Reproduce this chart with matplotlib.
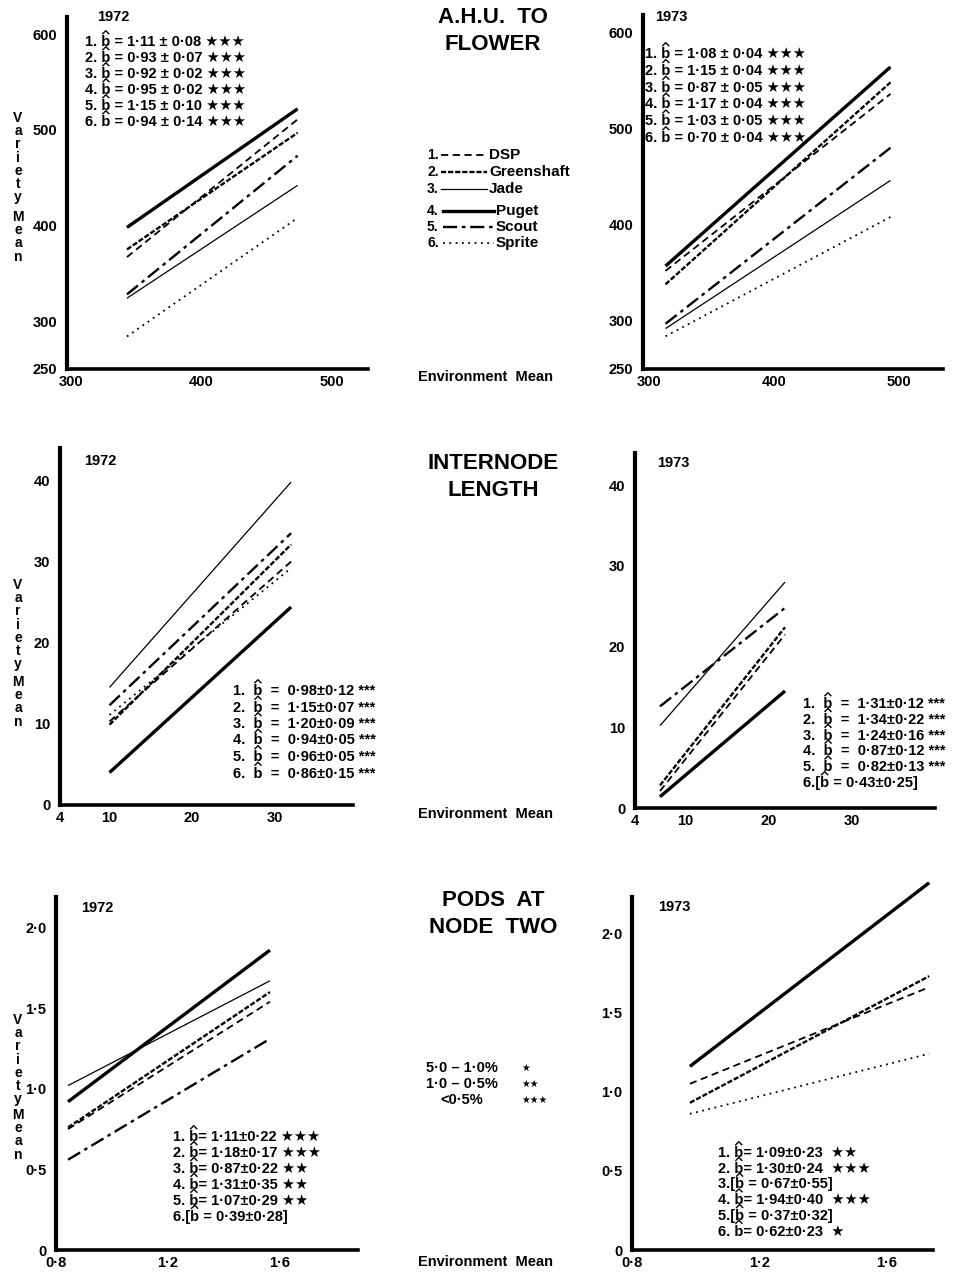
import matplotlib
matplotlib.use('Agg')
import matplotlib.pyplot as plt

plt.rcParams['font.family'] = ['Liberation Sans', 'DejaVu Sans']
plt.rcParams['font.weight'] = 'bold'

W, H = 960, 1277

varieties = ['DSP', 'Greenshaft', 'Jade', 'Puget', 'Scout', 'Sprite']
line_width = [1.3, 1.7, 0.9, 2.4, 1.7, 1.3]
line_dash = [(0, (4, 2.5)), (0, (2.2, 0.8)), '-', '-', (0, (6, 2, 1.5, 2)), (0, (1, 2.5))]

# A.H.U. to flower
ahu_xticks = [300, 400, 500]
ahu_yticks = [250, 300, 400, 500, 600]
ahu72_x = [343, 474]
ahu72_start = [367, 375, 324, 398, 328, 284]
ahu72_end = [511, 497, 442, 522, 473, 408]
ahu72_b = ['1·11 ± 0·08', '0·93 ± 0·07', '0·92 ± 0·02', '0·95 ± 0·02', '1·15 ± 0·10', '0·94 ± 0·14']
ahu72_sig = ['★★★'] * 6
ahu73_x = [313, 493]
ahu73_start = [352, 338, 292, 357, 297, 284]
ahu73_end = [536, 548, 446, 564, 480, 408]
ahu73_b = ['1·08 ± 0·04', '1·15 ± 0·04', '0·87 ± 0·05', '1·17 ± 0·04', '1·03 ± 0·05', '0·70 ± 0·04']
ahu73_sig = ['★★★'] * 6

# internode length
int_xticks = [4, 10, 20, 30]
int_yticks = [0, 10, 20, 30, 40]
int72_x = [10, 32]
int72_start = [10.3, 9.9, 14.5, 4.0, 12.3, 11.1]
int72_end = [30.0, 32.1, 39.8, 24.4, 33.5, 29.2]
int72_b = ['0·98±0·12', '1·15±0·07', '1·20±0·09', '0·94±0·05', '0·96±0·05', '0·86±0·15']
int72_sig = ['***'] * 6
int73_x = [7, 22]
int73_start = [2.1, 2.8, 10.2, 1.4, 12.6, None]
int73_end = [21.5, 22.4, 28.0, 14.5, 24.8, None]
int73_b = ['1·31±0·12', '1·34±0·22', '1·24±0·16', '0·87±0·12', '0·82±0·13', '0·43±0·25']
int73_sig = ['***', '***', '***', '***', '***', None]

# pods at node two
pod_xticks = [0.8, 1.2, 1.6]
pod_xlabels = ['0·8', '1·2', '1·6']
pod_yticks = [0, 0.5, 1.0, 1.5, 2.0]
pod_ylabels = ['0', '0·5', '1·0', '1·5', '2·0']
pod72_x = [0.843, 1.565]
pod72_start = [0.75, 0.76, 1.02, 0.92, 0.56, None]
pod72_end = [1.54, 1.60, 1.67, 1.86, 1.31, None]
pod72_b = ['1·11±0·22', '1·18±0·17', '0·87±0·22', '1·31±0·35', '1·07±0·29', '0·39±0·28']
pod72_sig = ['★★★', '★★★', '★★', '★★', '★★', None]
pod73_x = [0.982, 1.734]
pod73_start = [1.05, 0.93, None, 1.16, None, 0.86]
pod73_end = [1.66, 1.73, None, 2.32, None, 1.24]
pod73_b = ['1·09±0·23', '1·30±0·24', '0·67±0·55', '1·94±0·40', '0·37±0·32', '0·62±0·23']
pod73_sig = ['★★', '★★★', None, '★★★', None, '★']

sig_levels = ['5·0 – 1·0%', '1·0 – 0·5%', '<0·5%']
sig_marks = ['★', '★★', '★★★']

fig = plt.figure(figsize=(W / 100, H / 100), dpi=100)
renderer = fig.canvas.get_renderer()


def fx(x):
    return x / W


def fy(y):
    return 1 - y / H


def text_width(s, size):
    t = fig.text(0, 0, s, fontsize=size)
    w = t.get_window_extent(renderer).width
    t.remove()
    return w


def panel(box, xlim, ylim, xticks, xlabels, yticks, ylabels, xs, starts, ends):
    l, t, r, b = box
    ax = fig.add_axes([fx(l), fy(b), (r - l) / W, (b - t) / H])
    for i in range(len(varieties)):
        if starts[i] is None:
            continue
        ax.plot(xs, [starts[i], ends[i]], color='black', lw=line_width[i],
                linestyle=line_dash[i], clip_on=False, solid_capstyle='butt')
    ax.set_xlim(xlim)
    ax.set_ylim(ylim)
    ax.set_xticks(xticks)
    ax.set_xticklabels(xlabels)
    ax.set_yticks(yticks)
    ax.set_yticklabels(ylabels)
    ax.tick_params(length=0, labelsize=10.5, pad=4)
    ax.tick_params(axis='y', pad=7)
    for side in ['top', 'right']:
        ax.spines[side].set_visible(False)
    ax.spines['left'].set_linewidth(3)
    ax.spines['bottom'].set_linewidth(2.6)
    ax.patch.set_alpha(0)
    return ax


def equations(x, y0, dy, bs, sigs, fmt, size=10.5):
    px = size * 100 / 72
    wb = text_width('b', size)
    for i, (b, s) in enumerate(zip(bs, sigs)):
        y = y0 + i * dy
        if s is None:
            pre = '%d.[b' % (i + 1)
            txt = '%d.[b = %s]' % (i + 1, b)
        else:
            pre = fmt.split('{bh}')[0].format(n=i + 1) + 'b'
            txt = fmt.format(n=i + 1, bh='b', b=b, s=s)
        fig.text(fx(x), fy(y), txt, fontsize=size, ha='left', va='baseline')
        # circumflex over the b
        cx = x + text_width(pre, size) - wb * 0.5
        top = y - px * 0.74 - 1.5
        fig.add_artist(plt.Line2D([fx(cx - 3), fx(cx), fx(cx + 3)],
                                  [fy(top), fy(top - 3), fy(top)],
                                  color='black', lw=1.0))


def variety_mean(x, y_top, y_mid):
    fig.text(fx(x), fy(y_top), '\n'.join('Variety'), fontsize=10, ha='center',
             va='top', linespacing=0.93)
    fig.text(fx(x), fy(y_mid), '\n'.join('Mean'), fontsize=10, ha='center',
             va='top', linespacing=0.93)


# row 1: A.H.U. to flower
panel((67, 17, 368, 369), (297, 528), (250, 618), ahu_xticks, ahu_xticks,
      ahu_yticks, ahu_yticks, ahu72_x, ahu72_start, ahu72_end)
panel((643, 15, 943, 369), (295, 535), (250, 618), ahu_xticks, ahu_xticks,
      ahu_yticks, ahu_yticks, ahu73_x, ahu73_start, ahu73_end)
fig.text(fx(97), fy(17), '1972', fontsize=10.5, va='center')
fig.text(fx(655), fy(17), '1973', fontsize=10.5, va='center')
equations(85, 46, 16, ahu72_b, ahu72_sig, '{n}. {bh} = {b} {s}')
equations(645, 58, 16.8, ahu73_b, ahu73_sig, '{n}. {bh} = {b} {s}')
variety_mean(18, 111, 210)

# row 2: internode length
panel((60, 448, 353, 805), (4, 39.5), (0, 44), int_xticks, int_xticks,
      int_yticks, int_yticks, int72_x, int72_start, int72_end)
panel((635, 453, 935, 808), (4, 40), (0, 44), int_xticks, int_xticks,
      int_yticks, int_yticks, int73_x, int73_start, int73_end)
fig.text(fx(84), fy(461), '1972', fontsize=10.5, va='center')
fig.text(fx(657), fy(463), '1973', fontsize=10.5, va='center')
equations(233, 695, 16.5, int72_b, int72_sig, '{n}.  {bh}  =  {b} {s}')
equations(803, 708, 15.8, int73_b, int73_sig, '{n}.  {bh}  =  {b} {s}')
variety_mean(18, 578, 675)

# row 3: pods at node two
panel((56, 897, 358, 1250), (0.8, 1.88), (0, 2.19), pod_xticks, pod_xlabels,
      pod_yticks, pod_ylabels, pod72_x, pod72_start, pod72_end)
panel((632, 897, 933, 1250), (0.8, 1.746), (0, 2.23), pod_xticks, pod_xlabels,
      pod_yticks, pod_ylabels, pod73_x, pod73_start, pod73_end)
fig.text(fx(81), fy(908), '1972', fontsize=10.5, va='center')
fig.text(fx(658), fy(907), '1973', fontsize=10.5, va='center')
equations(173, 1141, 15.9, pod72_b, pod72_sig, '{n}. {bh}= {b} {s}')
equations(718, 1157, 15.7, pod73_b, pod73_sig, '{n}. {bh}= {b}  {s}')
variety_mean(18, 1013, 1108)

# centre column titles and x label
titles = [('A.H.U.  TO\nFLOWER', 31), ('INTERNODE\nLENGTH', 477), ('PODS  AT\nNODE  TWO', 914)]
for title, y in titles:
    fig.text(fx(493), fy(y), title, fontsize=16, ha='center', va='center',
             linespacing=1.4)
for y in [377, 814, 1262]:
    fig.text(fx(485), fy(y), 'Environment  Mean', fontsize=10.5, ha='center',
             va='center')

# key for line styles
key_rows = [155, 172, 189, 211, 227, 243]
for i, name in enumerate(varieties):
    y = key_rows[i]
    x0, x1, xl = (441, 487, 489) if i < 3 else (443, 494, 496)
    fig.text(fx(427), fy(y), '%d.' % (i + 1), fontsize=10, ha='left', va='center')
    fig.add_artist(plt.Line2D([fx(x0), fx(x1)], [fy(y), fy(y)], color='black',
                              lw=line_width[i], linestyle=line_dash[i]))
    fig.text(fx(xl), fy(y), name, fontsize=11, ha='left', va='center')

# key for significance levels
for i, (lvl, mark) in enumerate(zip(sig_levels, sig_marks)):
    y = 1068 + i * 16
    fig.text(fx(462), fy(y), lvl, fontsize=10.5, ha='center', va='center')
    fig.text(fx(521), fy(y), mark, fontsize=7, ha='left', va='center')

fig.savefig('out.png', dpi=100)
